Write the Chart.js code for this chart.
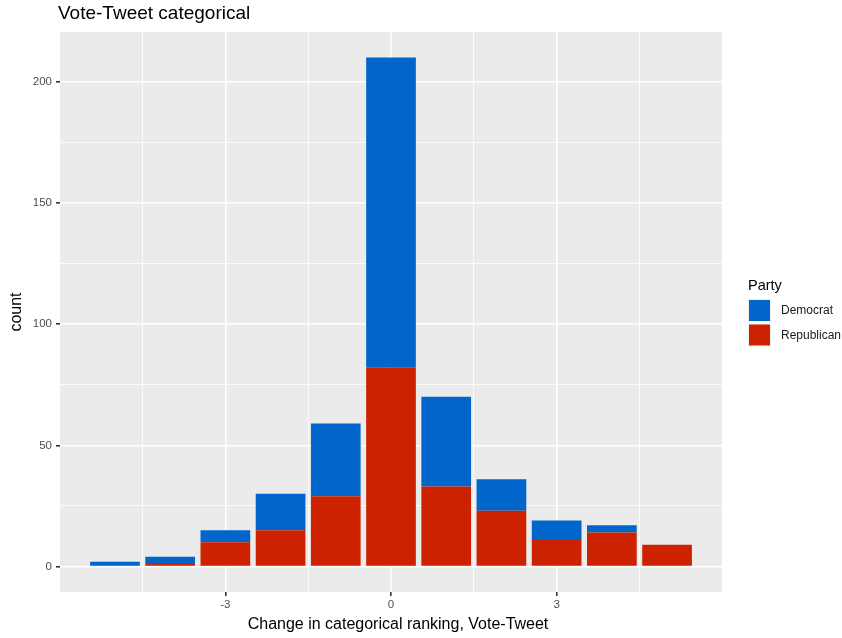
<!DOCTYPE html>
<html>
<head>
<meta charset="utf-8">
<script src="https://cdn.jsdelivr.net/npm/chart.js@4"></script>
<style>
  html, body { margin: 0; padding: 0; background: #fff; }
  #wrap { width: 842px; height: 638px; }
</style>
</head>
<body>
<div id="wrap"><canvas id="chart" width="842" height="638"></canvas></div>
<script>
// change in categorical ranking (Vote - Tweet)
const changes = [-5, -4, -3, -2, -1, 0, 1, 2, 3, 4, 5];
const democrat = [2, 3, 5, 15, 30, 128, 37, 13, 8, 3, 0];
const republican = [0, 1, 10, 15, 29, 82, 33, 23, 11, 14, 9];

const xGrid = [-4.5, -3, -1.5, 0, 1.5, 3, 4.5];
const xLabels = [-3, 0, 3];
const yGrid = [0, 25, 50, 75, 100, 125, 150, 175, 200];
const yLabels = [0, 50, 100, 150, 200];

const blue = '#0066CC';
const red = '#CC2200';
const font = '"Liberation Sans", Arial, Helvetica, sans-serif';

// is this grid line a major one (with a label)?
const isMajor = (c, labels) => !!(c.tick && labels.includes(c.tick.value));

// grey panel, titles and legend drawn like ggplot
const ggPanel = {
    id: 'ggPanel',
    beforeDraw(chart) {
        const { ctx, chartArea: a } = chart;
        ctx.save();
        ctx.fillStyle = '#EBEBEB';
        ctx.fillRect(a.left, a.top, a.right - a.left, a.bottom - a.top);
        ctx.restore();
    },
    afterDraw(chart) {
        const { ctx, chartArea: a } = chart;
        ctx.save();
        ctx.fillStyle = '#000';
        ctx.textBaseline = 'middle';
        ctx.font = '19px ' + font;
        ctx.fillText('Vote-Tweet categorical', a.left - 2, 14);

        // x axis title
        ctx.font = '16px ' + font;
        ctx.textAlign = 'center';
        ctx.fillText('Change in categorical ranking, Vote-Tweet', 398, 625);
        ctx.textAlign = 'left';

        // legend
        const lx = a.right + 26;
        ctx.font = '14.5px ' + font;
        ctx.fillText('Party', lx, 286);
        const items = [['Democrat', blue], ['Republican', red]];
        items.forEach((it, i) => {
            const y = 299 + i * 24.5;
            ctx.fillStyle = '#F2F2F2';
            ctx.fillRect(lx, y, 23, 23);
            ctx.fillStyle = it[1];
            ctx.fillRect(lx + 1, y + 1, 21, 21);
            ctx.fillStyle = '#1a1a1a';
            ctx.font = '12px ' + font;
            ctx.fillText(it[0], lx + 33, y + 12);
        });
        ctx.restore();
    }
};

new Chart(document.getElementById('chart'), {
    type: 'bar',
    data: {
        datasets: [
            {
                label: 'Republican',
                data: changes.map((c, i) => ({ x: c, y: republican[i] })),
                backgroundColor: red,
                borderWidth: 0
            },
            {
                label: 'Democrat',
                data: changes.map((c, i) => ({ x: c, y: democrat[i] })),
                backgroundColor: blue,
                borderWidth: 0
            }
        ]
    },
    options: {
        responsive: false,
        animation: false,
        categoryPercentage: 1,
        barPercentage: 0.9,
        layout: { padding: { top: 32, right: 120, left: 0, bottom: 0 } },
        plugins: {
            legend: { display: false },
            tooltip: { enabled: false }
        },
        scales: {
            x: {
                type: 'linear',
                stacked: true,
                offset: false,
                min: -5.995,
                max: 5.995,
                afterBuildTicks: s => { s.ticks = xGrid.map(v => ({ value: v })); },
                afterFit: s => { s.height = 46; },
                border: { display: false },
                grid: {
                    offset: false,
                    color: '#FFFFFF',
                    lineWidth: c => isMajor(c, xLabels) ? 1.6 : 0.8,
                    tickLength: 4,
                    tickColor: c => isMajor(c, xLabels) ? '#333333' : 'rgba(0,0,0,0)'
                },
                ticks: {
                    autoSkip: false,
                    maxRotation: 0,
                    padding: 2,
                    color: '#4D4D4D',
                    font: { family: font, size: 11.5 },
                    callback: v => xLabels.includes(v) ? String(v) : ''
                }
            },
            y: {
                stacked: true,
                min: -10.5,
                max: 220.5,
                afterBuildTicks: s => { s.ticks = yGrid.map(v => ({ value: v })); },
                afterFit: s => { s.width = 60; },
                border: { display: false },
                grid: {
                    color: '#FFFFFF',
                    lineWidth: c => isMajor(c, yLabels) ? 1.6 : 0.8,
                    tickLength: 4,
                    tickColor: c => isMajor(c, yLabels) ? '#333333' : 'rgba(0,0,0,0)'
                },
                ticks: {
                    autoSkip: false,
                    padding: 4,
                    color: '#4D4D4D',
                    font: { family: font, size: 11.5 },
                    callback: v => yLabels.includes(v) ? String(v) : ''
                },
                title: {
                    display: true,
                    text: 'count',
                    color: '#000',
                    font: { family: font, size: 16 },
                    padding: { top: 7, bottom: 0 }
                }
            }
        }
    },
    plugins: [ggPanel]
});
</script>
</body>
</html>
